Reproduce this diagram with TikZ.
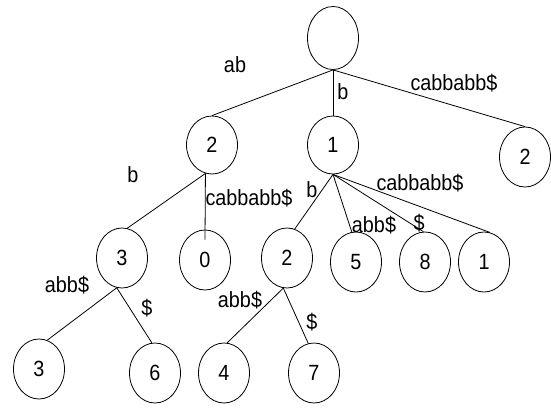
\documentclass[tikz,border=0pt]{standalone}
\usepackage{fontspec}
\setmainfont[FakeStretch=0.9]{Liberation Sans}
\usetikzlibrary{shapes.geometric}
\begin{document}
\begin{tikzpicture}[x=1pt,y=-1pt,
  tnode/.style={draw, ellipse, minimum width=51pt, minimum height=58pt, inner sep=0pt, line width=0.8pt, font=\fontsize{22}{22}\selectfont},
  lbl/.style={inner sep=0pt, font=\fontsize{22}{22}\selectfont},
  edge/.style={line width=0.8pt}]
\useasboundingbox (0,0) rectangle (551,407);
% nodes
\node[tnode, minimum height=63pt] (root) at (333,38) {};
\node[tnode] (a2) at (212,145) {2};
\node[tnode] (a1) at (333,145) {1};
\node[tnode, minimum height=60pt] (ar) at (525,157) {2};
\node[tnode, minimum height=60pt] (b3) at (122,258) {3};
\node[tnode, minimum height=60pt] (b0) at (205,260) {0};
\node[tnode, minimum height=60pt] (b2) at (287,258) {2};
\node[tnode, minimum height=60pt] (b5) at (356,262) {5};
\node[tnode, minimum height=60pt] (b8) at (425,262) {8};
\node[tnode, minimum height=60pt] (b1) at (484,262) {1};
\node[tnode, minimum height=60pt] (c3) at (39,369) {3};
\node[tnode, minimum height=60pt] (c6) at (155,373) {6};
\node[tnode, minimum height=60pt] (c4) at (224,373) {4};
\node[tnode, minimum height=60pt] (c7) at (314,373) {7};
% edges
\draw[edge] (root.south) -- (a2.north);
\draw[edge] (root.south) -- (a1.north);
\draw[edge] (root.south) -- (ar.north);
\draw[edge] (a2.257) -- (b3.80);
\draw[edge] (a2.257) -- ([yshift=-10pt]b0.north);
\draw[edge] (a1.south) -- (b2.75);
\draw[edge] (a1.south) -- (b5.98);
\draw[edge] (a1.south) -- (b8.93);
\draw[edge] (a1.south) -- (b1.79);
\draw[edge] (b3.260) -- (c3.74);
\draw[edge] (b3.260) -- (c6.96);
\draw[edge] (b2.263) -- (c4.84);
\draw[edge] (b2.263) -- (c7.101);
% labels
\node[lbl] (l1) at (235,65) {ab};
\node[lbl] (l2) at (343,92) {b};
\node[lbl] (l3) at (454,83) {cabbabb\$};
\node[lbl] (l4) at (133,175) {b};
\node[lbl] (l5) at (249,198) {cabbabb\$};
\node[lbl] (l6) at (67,285) {abb\$};
\node[lbl] (l7) at (147,308) {\$};
\node[lbl] (l8) at (312,190) {b};
\node[lbl] (l9) at (420,183) {cabbabb\$};
\node[lbl] (l10) at (374,225) {abb\$};
\node[lbl] (l11) at (419,223) {\$};
\node[lbl] (l12) at (240,300) {abb\$};
\node[lbl] (l13) at (312,322) {\$};
\end{tikzpicture}
\end{document}
